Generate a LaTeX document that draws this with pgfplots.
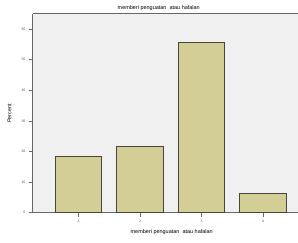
\documentclass[border=0pt]{standalone}
\usepackage{pgfplots}
\pgfplotsset{compat=1.18}
\usepackage{fontspec}
\setmainfont{Liberation Sans}
\usetikzlibrary{calc}
\definecolor{barfill}{RGB}{211,206,150}
\definecolor{bgc}{RGB}{240,240,240}
\definecolor{edgec}{RGB}{70,70,60}
\begin{document}
\begin{tikzpicture}
\begin{axis}[
  name=ax,
  scale only axis,
  width=265pt, height=199pt,
  xmin=0.26, xmax=4.56,
  ymin=0, ymax=64.9,
  axis background/.style={fill=bgc},
  axis x line*=bottom, axis y line*=left,
  axis line style={draw=gray!80!black, line width=1pt},
  ybar, bar width=47pt,
  xtick={1,2,3,4},
  ytick={0,10,20,30,40,50,60},
  tick align=outside,
  major tick length=4pt,
  tick style={gray!80!black, line width=0.6pt},
  tick label style={font=\fontsize{3.5}{4}\selectfont, text=gray!70!black},
  /pgf/number format/assume math mode=true,
  ylabel={Percent},
  ylabel style={font=\fontsize{5.5}{6}\selectfont, at={(axis description cs:-0.068,0.5)}},
  clip=false,
]
\addplot[fill=barfill, draw=edgec, line width=1pt] coordinates {(1,18.5) (2,21.6) (3,55.7) (4,6.1)};
\end{axis}
\draw[gray!80!black, line width=1pt] (ax.north west) -- (ax.north east);
\node[font=\fontsize{5.5}{6}\selectfont] at ($(ax.south west)+(126pt,213pt-8pt)$) {memberi penguatan\ \ atau hafalan};
\node[font=\fontsize{5.5}{6}\selectfont] at ($(ax.south west)+(139pt,-19pt)$) {memberi penguatan\ \ atau hafalan};
\path[use as bounding box] ($(ax.south west)+(-33pt,-30pt)$) rectangle ($(ax.south west)+(265pt,213pt)$);
\end{tikzpicture}
\end{document}
